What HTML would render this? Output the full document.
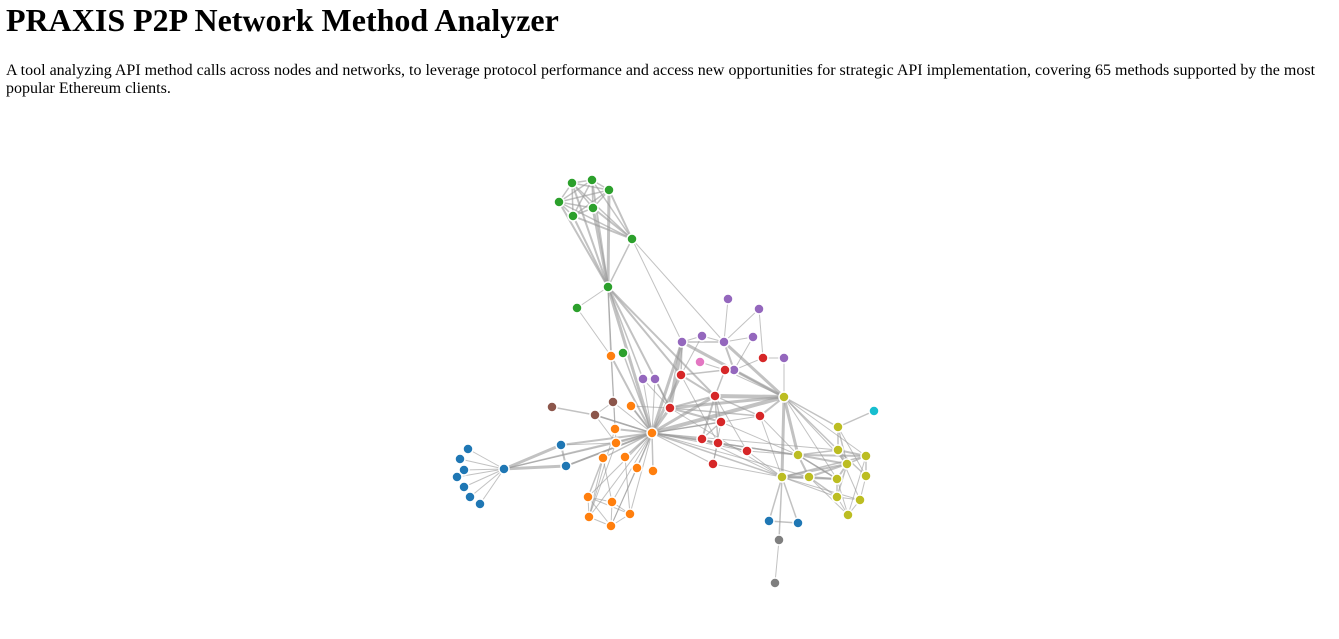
<!DOCTYPE html>
<html><head><meta charset="utf-8">
<style>
html,body{margin:0;padding:0;background:#fff;}
body{width:1339px;height:639px;overflow:hidden;position:relative;font-family:"Liberation Serif",serif;}
h1{position:absolute;left:6px;top:0;margin:0;font-size:32px;line-height:40px;font-weight:bold;}
p{position:absolute;left:6px;top:62px;margin:0;font-size:16px;line-height:18px;width:1325px;}
svg{position:absolute;left:0;top:0;}
</style></head><body>
<h1>PRAXIS P2P Network Method Analyzer</h1>
<p>A tool analyzing API method calls across nodes and networks, to leverage protocol performance and access new opportunities for strategic API implementation, covering 65 methods supported by the most popular Ethereum clients.</p>
<svg id="chart" width="1339" height="639"></svg>
<script>
// node ids and groups (data)
const nodeIds = ["g1","g2","g3","g4","g5","g6","g7","g8","g9","g10",
"o0","o1","o2","o3","o4","o5","o6","o7","o8","o9","o10","o11","o12","o13",
"n1","n2","n3",
"u0","u1","u2","u3","u4","u5","u6","u7","u8","u9","u10","u11",
"p1","p2","p3","p4","p5","p6","p7","p8","p9","p10","k1",
"r1","r2","r3","r4","r5","r6","r7","r8","r9","r10","r11",
"y1","y2","y3","y4","y5","y6","y7","y8","y9","y10","y11","y12","y13",
"c1","a1","a2"];
const nodeGroups = [2,2,2,2,2,2,2,2,2,2,
1,1,1,1,1,1,1,1,1,1,1,1,1,1,
5,5,5,
0,0,0,0,0,0,0,0,0,0,0,0,
4,4,4,4,4,4,4,4,4,4,6,
3,3,3,3,3,3,3,3,3,3,3,
8,8,8,8,8,8,8,8,8,8,8,8,8,
9,7,7];
// simulated layout result (x,y)
const layoutX = [572,592,609,559,593,573,632,608,577,623,
652,611,631,615,616,603,625,637,653,588,612,630,589,611,
552,595,613,
504,468,460,464,457,464,470,480,561,566,769,798,
728,759,682,702,724,753,734,784,643,655,700,
763,681,725,670,715,760,721,702,718,747,713,
784,838,838,866,798,847,866,782,809,837,837,860,848,
874,779,775];
const layoutY = [183,180,190,202,208,216,239,287,308,353,
433,356,406,429,443,458,457,468,471,497,502,514,517,526,
407,415,402,
469,449,459,470,477,487,497,504,445,466,521,523,
299,309,342,336,342,337,370,358,379,379,362,
358,375,370,408,396,416,422,439,443,451,464,
397,427,450,456,455,464,476,477,477,479,497,500,515,
411,540,583];
const linkSources = ["g1","g1","g1","g1","g1","g2","g2","g2","g2","g3","g3","g3","g4","g4","g5",
"g1","g2","g3","g4","g5","g6","g1","g2","g3","g4","g5","g6","g7","g8","g9","g8","g8","g8","g8","g8","g7","g7","g8","g8",
"o0","o0","o0","o0","o0","o0","o0","o0","o0","o0","o0","o0","o0","o0","o0","o0","o0","o0","o0","o0","o0","o0","o0","o0","o0","o0","o0","o0","o0","o0","o0","o0","o0",
"o9","o9","o9","o10","o10","o11","o12","o9","o5","o5","o5","o6","o7","o3","o4","o1",
"n1","n2","n2","n2",
"u0","u0","u0","u0","u0","u0","u0","u0","u0","u0","u8","u9","u8",
"y8","y8","u10","y8","a1",
"p1","p2","p2","p5","p5","p3","p3","p5","p6","p7","r1","p8","p3","p3","p3","p5","p7","p9","p10","p9","k1","p4",
"r2","r2","r3","r5","r4","r5","r5","r5","r5","r5","r4","r7","r8","r9","r7","r8","r9","r6","r10","r11","r9","r5","r2","r4","r3",
"y1","y1","y1","y1","y2","y8","y8","y8","y5","y5","y5","y5","y2","y2","y3","y3","y3","y4","y4","y6","y6","y9","y9","y9","y10","y10","y11","y11","y12","y8","y8","y5","y2","y3","y9","y7","y4","y1","y1",
"o0","o0","o0","r4","r7","r8","r6","r6","r10","y5","y1","y8","o2","o2"];
const linkTargets = ["g2","g3","g4","g5","g6","g3","g4","g5","g6","g4","g5","g6","g5","g6","g6",
"g7","g7","g7","g7","g7","g7","g8","g8","g8","g8","g8","g8","g8","g9","o1","o0","o1","r2","r4","p9","p3","p5","r5","o4",
"o1","o2","o3","o4","o5","o6","o7","o8","o9","o10","o11","o12","o13","g10","n2","n3","u8","u9","u0","r2","r4","r5","p3","y1","y8","y5","r8","r9","r11","p9","p10","r7","y3",
"o10","o12","o13","o11","o13","o13","o13","o11","o9","o12","o10","o11","o13","o12","o12","o3",
"n2","o0","n3","o4",
"u1","u2","u3","u4","u5","u6","u7","u8","u9","o4","u9","o0","o4",
"u10","u11","u11","a1","a2",
"p5","p5","r1","p6","p4","p4","p5","p7","p7","r1","p8","y1","r2","r4","y1","y1","y1","r4","r4","p10","r3","r2",
"r3","r5","r5","r4","r7","r7","r8","r9","r6","y1","y1","r8","r9","r11","r11","r10","r10","y1","y8","y8","y5","r10","r9","y8","y1",
"y2","y5","y8","y3","c1","y9","y10","y6","y3","y6","y9","y4","y3","y6","y4","y6","y7","y7","y6","y10","y11","y10","y6","y13","y11","y13","y12","y13","y13","y4","y12","y10","y7","y12","y11","y12","y13","y4","y6",
"r6","r10","y9","r6","y5","y8","y5","y8","y5","y10","y10","y11","r4","o0"];
const linkValues = [1.5,1.5,1.5,1.5,1.5,1.5,1.5,1.5,1.5,1.5,1.5,1.5,1.5,1.5,1.5,
1.5,1.5,2,1.5,2,2,2,2,3,2,3,2,1.5,1,1,3,1.5,2,2,1.5,1,1,2,1,
2,2,2,2,1.5,2,1.5,1.5,1,1,1,1,1,1.5,1.5,1,2,2,1.5,3,3,3,3,4,1.5,1.5,1.5,1.5,1,1,1,1.5,1,
1,1,1,1,1,1,1,1,1.5,1,1,1,1,1,1,1,
1.5,1.5,1,1,
1,1,1,1,1,1,1,3,3,1,2,1.5,1,
1.5,1.5,1.5,1.5,1,
1,1,1,1,1,1,1.5,2,1,1,1,1,1.5,4,3,3,1.5,1,1,1,1,1,
1.5,2,1.5,2,2,1.5,2,1.5,1.5,4,3,1.5,1.5,1,1,1,1,2,1,1,1.5,1,1,1,1,
1.5,3,3,1.5,1.5,3,2,2,1.5,2,2,2,1.5,1.5,2,2,1.5,1.5,1.5,2,1.5,2,2,1,1.5,1,1,1,1,1.5,1,1.5,1,1,1.5,1,1,1,1,
1,1,1,1.5,1,1,1,1,1,1.5,1,1,1,1];
const palette = ["#1f77b4","#ff7f0e","#2ca02c","#d62728","#9467bd","#8c564b","#e377c2","#7f7f7f","#bcbd22","#17becf"];

const NS="http://www.w3.org/2000/svg";
const svg=document.getElementById('chart');
const idx={};nodeIds.forEach((id,i)=>idx[id]=i);
const sx=i=>layoutX[i], sy=i=>layoutY[i];
const gl=document.createElementNS(NS,'g');


gl.setAttribute('stroke','#999');gl.setAttribute('stroke-opacity','0.6');
svg.appendChild(gl);
linkSources.forEach((s,k)=>{
  const a=idx[s],b=idx[linkTargets[k]];
  if(a===undefined||b===undefined)return;
  const l=document.createElementNS(NS,'line');
  
  
  l.setAttribute('x1',sx(a));l.setAttribute('y1',sy(a));
  l.setAttribute('x2',sx(b));l.setAttribute('y2',sy(b));
  l.setAttribute('stroke-width',linkValues[k]);
  gl.appendChild(l);
});
const gn=document.createElementNS(NS,'g');


gn.setAttribute('stroke','#fff');gn.setAttribute('stroke-width','1.5');
svg.appendChild(gn);
nodeIds.forEach((id,i)=>{
  const c=document.createElementNS(NS,'circle');
  
  
  c.setAttribute('cx',sx(i));c.setAttribute('cy',sy(i));c.setAttribute('r',5);
  c.setAttribute('fill',palette[nodeGroups[i]]);
  gn.appendChild(c);
});
</script>
</body></html>
